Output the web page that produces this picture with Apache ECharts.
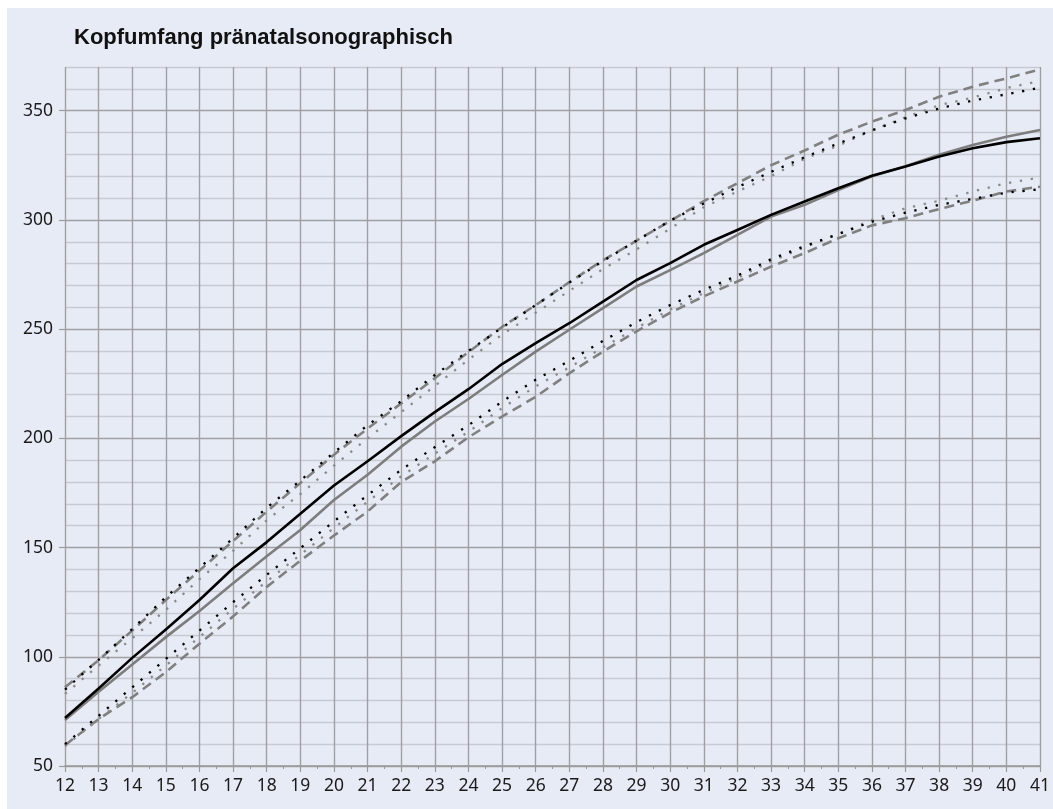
<!DOCTYPE html>
<html>
<head>
<meta charset="utf-8">
<script src="https://cdn.jsdelivr.net/npm/echarts@6/dist/echarts.min.js"></script>
<style>
html,body{margin:0;padding:0;background:#ffffff;}
#wrap{position:relative;width:1053px;height:809px;overflow:hidden;background:#ffffff;}
#bg{position:absolute;left:7px;top:8px;width:1046px;height:801px;background:#e6ebf6;}
#chart{position:absolute;left:0;top:0;width:1053px;height:809px;}
</style>
</head>
<body>
<div id="wrap"><div id="bg"></div><div id="chart"></div></div>
<script>
const titleText = 'Kopfumfang pränatalsonographisch';
const weeks = [12,13,14,15,16,17,18,19,20,21,22,23,24,25,26,27,28,29,30,31,32,33,34,35,36,37,38,39,40,41];
const yTicks = [50,100,150,200,250,300,350];

const meanBlack = [72,85.5,99.5,112.5,126,140.5,152.5,165.5,178.4,189.5,201,212,222.5,234,243.6,252.7,262.6,272.5,280.2,288.6,295.4,302.3,308.4,314.5,320.2,324.4,329,332.8,335.6,337.4];
const meanGray = [71,84,96.5,109,121,133.7,146,158,171.8,183.3,196.2,207.7,218,229,239.7,249.7,259.6,269.5,277,284.8,293.1,301.5,306.9,313.7,320,324.6,329.8,334.3,338.1,341.2];
const upperDashed = [86,98.5,112,126,139.5,153,166.5,179.5,192.5,204.5,216,227.5,239.5,251,261,271.5,281.5,290.5,299.5,308.6,316.8,325,331.8,339,345,350.3,356.4,361,364.8,368.9];
const lowerDashed = [59.5,71.5,81.5,93,106,118.5,132,144,155.5,166.5,180,189.5,200.5,210,219,229.8,239.7,249,257.5,265,271.8,278.6,284.8,291.6,297.5,300.8,305,308.8,313,315.2];
const upperDotBlack = [85,98.6,112.7,127.3,140.7,154.3,168.2,180.7,193.5,206,217,229,240,250.7,261,271.3,281.2,290.5,299.7,307.5,315,322,328.7,335,341,346.5,351,354.6,357.5,360.5];
const lowerDotBlack = [60,73,86,99,112,125,137.5,149.7,162,174,185.6,196,206,216.8,226.8,235.5,244.6,253.2,261,268,274.5,282,288,293.5,299.2,303.3,306.9,309.6,312.5,314];
const upperDotGray = [83,96,108.5,121.5,135.5,148.5,162.5,174.5,187.5,200,212,224,236,247.5,257.5,267.5,277.5,286.5,296,305.8,313,320,328,334,341,347,352.5,356,360.3,363.6];
const lowerDotGray = [59,71.5,83.5,96,109,122,134.5,146.7,159,171,182.6,193,203,213.8,223.8,232.5,241.6,250.5,259,266.5,273.5,281,287.5,293.5,300,305.3,308.8,313,316.8,319.4];

function pairs(vals){ return weeks.map((w,i)=>[w, vals[i]]); }

const GRAY = '#7d7d7d';
const LABEL_FONT = 'Noto Sans';
function lineSeries(name, vals, color, width, dash, z){
  return {
    name: name, type: 'line', data: pairs(vals), showSymbol: false, symbol: 'none',
    smooth: false, z: z, silent: true,
    lineStyle: { color: color, width: width, type: dash || 'solid', cap: 'butt', join: 'round' }
  };
}

const chart = echarts.init(document.getElementById('chart'), null, {renderer: 'canvas'});
chart.setOption({
  animation: false,
  backgroundColor: 'transparent',
  title: {
    text: titleText, left: 74, top: 27, padding: 0,
    textStyle: { fontFamily: 'Liberation Sans', fontWeight: 'bold', fontSize: 22, color: '#111' }
  },
  grid: { left: 65, right: 12, top: 67, bottom: 43, containLabel: false },
  xAxis: {
    type: 'value', min: 12, max: 41, interval: 1,
    axisLine: { show: true, onZero: false, lineStyle: { color: '#999', width: 1.5 } },
    axisTick: { show: true, length: 6, lineStyle: { color: '#999', width: 1.2 } },
    minorTick: { show: true, splitNumber: 2, length: 3, lineStyle: { color: '#999', width: 1 } },
    axisLabel: { margin: 11, fontFamily: LABEL_FONT, fontSize: 17.5, color: '#1a1a1a' },
    splitLine: { show: true, lineStyle: { color: '#a0a0a3', width: 1.4 } }
  },
  yAxis: [
    {
      type: 'value', min: 50, max: 370, interval: 10,
      axisLine: { show: false }, axisTick: { show: false }, axisLabel: { show: false },
      splitLine: { show: true, lineStyle: { color: ['#a0a0a3','#c8cad1','#c8cad1','#c8cad1','#c8cad1'], width: 1.4 } }
    },
    {
      type: 'value', min: 50, max: 370, interval: 50, position: 'left',
      axisLine: { show: false },
      axisTick: { show: true, length: 6, customValues: yTicks, lineStyle: { color: '#999', width: 1.2 } },
      axisLabel: { margin: 12, customValues: yTicks, fontFamily: LABEL_FONT, fontSize: 17.5, color: '#1a1a1a' },
      splitLine: { show: false }
    }
  ],
  series: [
    lineSeries('upperDashed', upperDashed, '#808080', 2.6, [10,6], 2),
    lineSeries('lowerDashed', lowerDashed, '#808080', 2.6, [10,6], 2),
    lineSeries('upperDotGray', upperDotGray, '#8a8a8a', 2.3, [2.3,8.7], 3),
    lineSeries('lowerDotGray', lowerDotGray, '#8a8a8a', 2.3, [2.3,8.7], 3),
    lineSeries('upperDotBlack', upperDotBlack, '#000000', 2.3, [2.3,8.7], 4),
    lineSeries('lowerDotBlack', lowerDotBlack, '#000000', 2.3, [2.3,8.7], 4),
    lineSeries('meanGray', meanGray, GRAY, 2.6, 'solid', 5),
    lineSeries('meanBlack', meanBlack, '#000000', 2.6, 'solid', 6)
  ]
});
</script>
</body>
</html>
